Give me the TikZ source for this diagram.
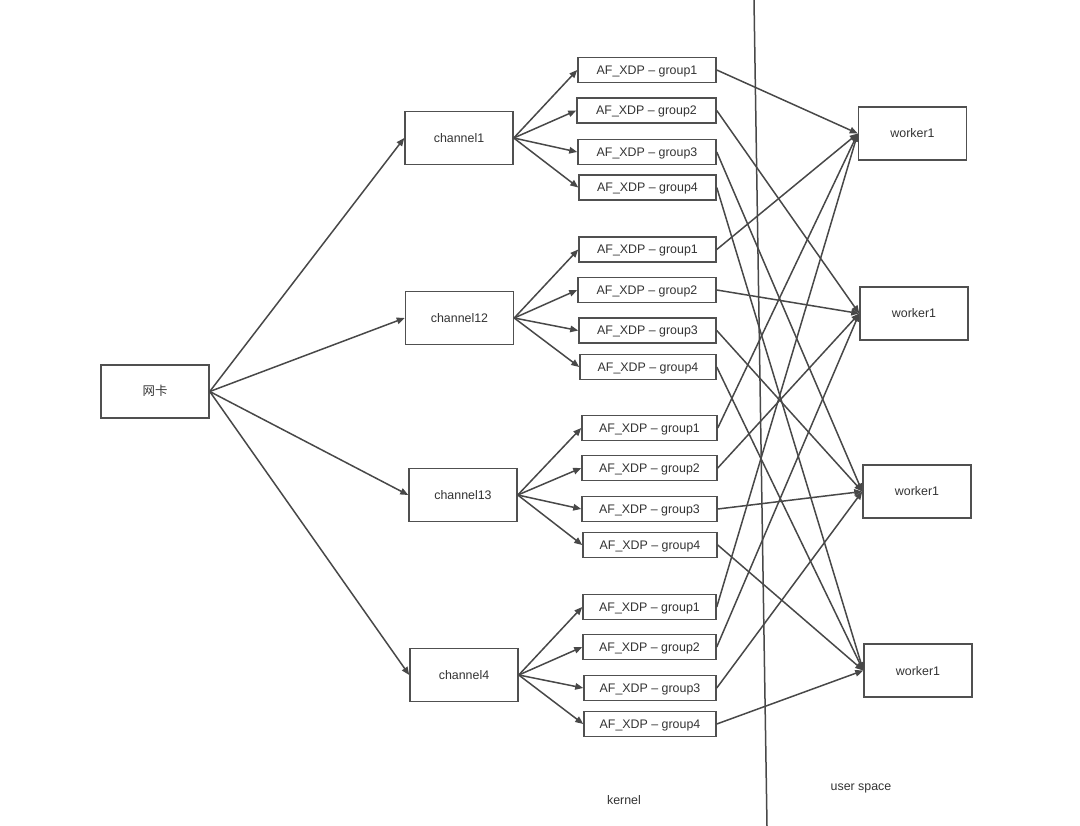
\documentclass[tikz,border=0pt]{standalone}
\usepackage{fontspec}
\setmainfont{Liberation Sans}
\newfontfamily\cjk{Noto Sans CJK SC}
\usetikzlibrary{arrows.meta}
\definecolor{boxc}{HTML}{505050}
\definecolor{linec}{HTML}{484848}
\definecolor{txt}{HTML}{333333}
\begin{document}
\begin{tikzpicture}[x=1pt,y=-1pt,
  box/.style={draw=boxc, line width=1.5pt, fill=white, inner sep=0pt, text=txt,
    font=\fontsize{12.4}{15}\selectfont, text height=9pt, text depth=0pt,
    minimum height=53pt, minimum width=108pt},
  grp/.style={draw=boxc, line width=1.5pt, fill=white, inner sep=0pt, text=txt,
    font=\fontsize{12.4}{15}\selectfont, text height=9pt, text depth=0pt,
    minimum height=25pt, minimum width=#1},
  conn/.style={draw=linec, line width=1.5pt, -{Triangle[length=8pt,width=6.5pt]}},
  divider/.style={draw=linec, line width=1.5pt},
  lbl/.style={text=txt, font=\fontsize{12.4}{15}\selectfont, inner sep=0pt,
    text height=9pt, text depth=0pt}
]
\useasboundingbox (0,0) rectangle (1080,826);

% main nodes
\node[box] (nk) at (155,391.5) {\cjk 网卡};
\node[box] (c1) at (459,138) {channel1};
\node[box] (c2) at (459.5,318) {channel12};
\node[box] (c3) at (463,495) {channel13};
\node[box] (c4) at (464,675) {channel4};

% workers
\node[box] (w1) at (912.5,133.5) {worker1};
\node[box] (w2) at (914,313.5) {worker1};
\node[box] (w3) at (917,491.5) {worker1};
\node[box] (w4) at (918,670.5) {worker1};

% groups
\node[grp=138pt] (g11) at (647,70) {AF\_XDP – group1};
\node[grp=139pt] (g12) at (646.5,110.5) {AF\_XDP – group2};
\node[grp=138pt] (g13) at (647,152) {AF\_XDP – group3};
\node[grp=137pt] (g14) at (647.5,187.5) {AF\_XDP – group4};

\node[grp=137pt] (g21) at (647.5,249.5) {AF\_XDP – group1};
\node[grp=138pt] (g22) at (647,290) {AF\_XDP – group2};
\node[grp=137pt] (g23) at (647.5,330.5) {AF\_XDP – group3};
\node[grp=136pt] (g24) at (648,367) {AF\_XDP – group4};

\node[grp=135pt] (g31) at (649.5,428) {AF\_XDP – group1};
\node[grp=135pt] (g32) at (649.5,468) {AF\_XDP – group2};
\node[grp=135pt] (g33) at (649.5,509) {AF\_XDP – group3};
\node[grp=134pt] (g34) at (650,545) {AF\_XDP – group4};

\node[grp=133pt] (g41) at (649.5,607) {AF\_XDP – group1};
\node[grp=133pt] (g42) at (649.5,647) {AF\_XDP – group2};
\node[grp=132pt] (g43) at (650,688) {AF\_XDP – group3};
\node[grp=132pt] (g44) at (650,724) {AF\_XDP – group4};

% labels
\node[lbl] (kernel) at (624,800) {kernel};
\node[lbl] (user) at (861,786) {user space};

% connectors
\foreach \c in {1,2,3,4}{
  \draw[conn] (nk.east) -- (c\c.west);
  \foreach \g in {1,2,3,4}{
    \draw[conn] (c\c.east) -- (g\c\g.west);
    \draw[conn] (g\c\g.east) -- (w\g.west);
  }
}

% kernel / user space divider
\coordinate (dtop) at (754,0);
\coordinate (dbot) at (767,826);
\draw[divider] (dtop) -- (dbot);
\end{tikzpicture}
\end{document}
